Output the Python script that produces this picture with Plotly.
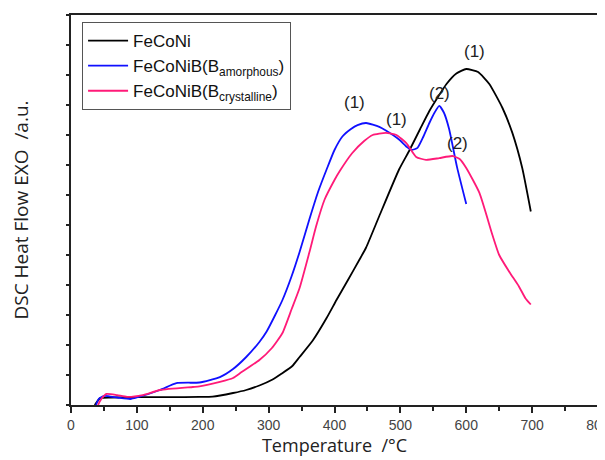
import plotly.graph_objects as go

# FeCoNi (black)
t_feconi = [36, 40, 44, 60, 100, 150, 195, 215, 246, 266, 286, 306, 320, 336, 347, 367, 388, 403, 420, 438, 448, 468, 498, 514, 530, 544, 558, 570, 585, 600, 618, 635, 655, 670, 685, 698]
y_feconi = [0.0, 0.12, 0.23, 0.25, 0.26, 0.26, 0.27, 0.28, 0.4, 0.5, 0.65, 0.85, 1.05, 1.3, 1.6, 2.15, 2.9, 3.5, 4.15, 4.85, 5.25, 6.3, 7.85, 8.5, 9.2, 9.8, 10.3, 10.7, 11.05, 11.2, 11.1, 10.7, 9.9, 9.07, 7.9, 6.45]

# FeCoNiB (B amorphous) (blue)
t_amor = [38, 42, 50, 70, 90, 100, 135, 160, 195, 226, 246, 266, 286, 297, 310, 321, 335, 347, 362, 375, 388, 400, 412, 425, 435, 448, 468, 478, 498, 510, 517, 526, 535, 544, 552, 559, 566, 574, 586, 600]
y_amor = [0.0, 0.2, 0.3, 0.25, 0.2, 0.25, 0.5, 0.73, 0.75, 0.93, 1.2, 1.6, 2.1, 2.45, 3.0, 3.5, 4.3, 5.1, 6.2, 7.1, 7.85, 8.5, 8.95, 9.2, 9.33, 9.4, 9.27, 9.15, 8.85, 8.6, 8.5, 8.57, 8.95, 9.4, 9.75, 9.97, 9.75, 9.2, 7.93, 6.7]

# FeCoNiB (B crystalline) (pink)
t_cry = [41, 46, 54, 70, 85, 109, 135, 185, 195, 226, 246, 256, 286, 305, 321, 335, 347, 362, 372, 385, 400, 408, 427, 445, 458, 478, 494, 509, 524, 539, 559, 579, 590, 600, 620, 640, 650, 665, 680, 690, 698]
y_cry = [0.0, 0.2, 0.37, 0.33, 0.27, 0.33, 0.5, 0.6, 0.62, 0.77, 0.9, 1.05, 1.5, 1.9, 2.4, 3.2, 3.9, 5.1, 5.95, 6.85, 7.5, 7.8, 8.4, 8.8, 9.0, 9.07, 9.0, 8.73, 8.27, 8.17, 8.23, 8.3, 8.2, 7.9, 7.07, 5.65, 5.0, 4.45, 3.95, 3.55, 3.35]

# Peak labels
label_t = [612, 559, 430, 494, 586]
label_y = [11.77, 10.4, 10.07, 9.53, 8.73]
label_text = ["(1)", "(2)", "(1)", "(1)", "(2)"]

x_ticks = [0, 100, 200, 300, 400, 500, 600, 700, 800]

fig = go.Figure()
fig.add_trace(go.Scatter(x=t_feconi, y=y_feconi, mode="lines", name="FeCoNi",
                         line=dict(color="#000000", width=1.8, shape="spline", smoothing=0.5)))
fig.add_trace(go.Scatter(x=t_amor, y=y_amor, mode="lines",
                         name="FeCoNiB(B<sub>amorphous</sub>)",
                         line=dict(color="#1010ff", width=1.8, shape="spline", smoothing=0.5)))
fig.add_trace(go.Scatter(x=t_cry, y=y_cry, mode="lines",
                         name="FeCoNiB(B<sub>crystalline</sub>)",
                         line=dict(color="#ff1a78", width=1.8, shape="spline", smoothing=0.5)))

for tx, ty, tt in zip(label_t, label_y, label_text):
    fig.add_annotation(x=tx, y=ty, text=tt, showarrow=False,
                       font=dict(family="Arial, Liberation Sans", size=17, color="#222222"))

fig.update_layout(
    width=597, height=452,
    margin=dict(l=63, r=7, t=7, b=55, autoexpand=False),
    paper_bgcolor="white", plot_bgcolor="white",
    showlegend=True,
    legend=dict(x=0.021, y=0.982, xanchor="left", yanchor="top",
                bordercolor="#555555", borderwidth=1, bgcolor="white",
                font=dict(family="Arial, Liberation Sans", size=17, color="#111111"),
                tracegroupgap=0, itemwidth=40),
    xaxis=dict(range=[0, 800], tickvals=x_ticks, ticks="outside", ticklen=6, tickwidth=1.5,
               tickcolor="#222222", showline=True, linecolor="#222222", linewidth=2,
               mirror=True, showgrid=False, zeroline=False, automargin=False,
               ticklabeloverflow="allow",
               minor=dict(dtick=50, ticks="outside", ticklen=4, tickwidth=1.5, tickcolor="#222222"),
               tickfont=dict(family="Arial, Liberation Sans", size=14, color="#444444"),
               title=dict(text="Temperature  /°C", standoff=8,
                          font=dict(family="Open Sans, DejaVu Sans", size=18, color="#222222"))),
    yaxis=dict(range=[0, 13], dtick=1, tick0=0, ticks="outside", ticklen=3, tickwidth=1.5,
               tickcolor="#222222", showticklabels=False, showline=True, linecolor="#222222",
               linewidth=2, mirror=True, showgrid=False, zeroline=False, automargin=False,
               title=dict(text="DSC Heat Flow EXO  /a.u.", standoff=37,
                          font=dict(family="Open Sans, DejaVu Sans", size=19, color="#222222"))),
)

fig.write_html("out.html")
